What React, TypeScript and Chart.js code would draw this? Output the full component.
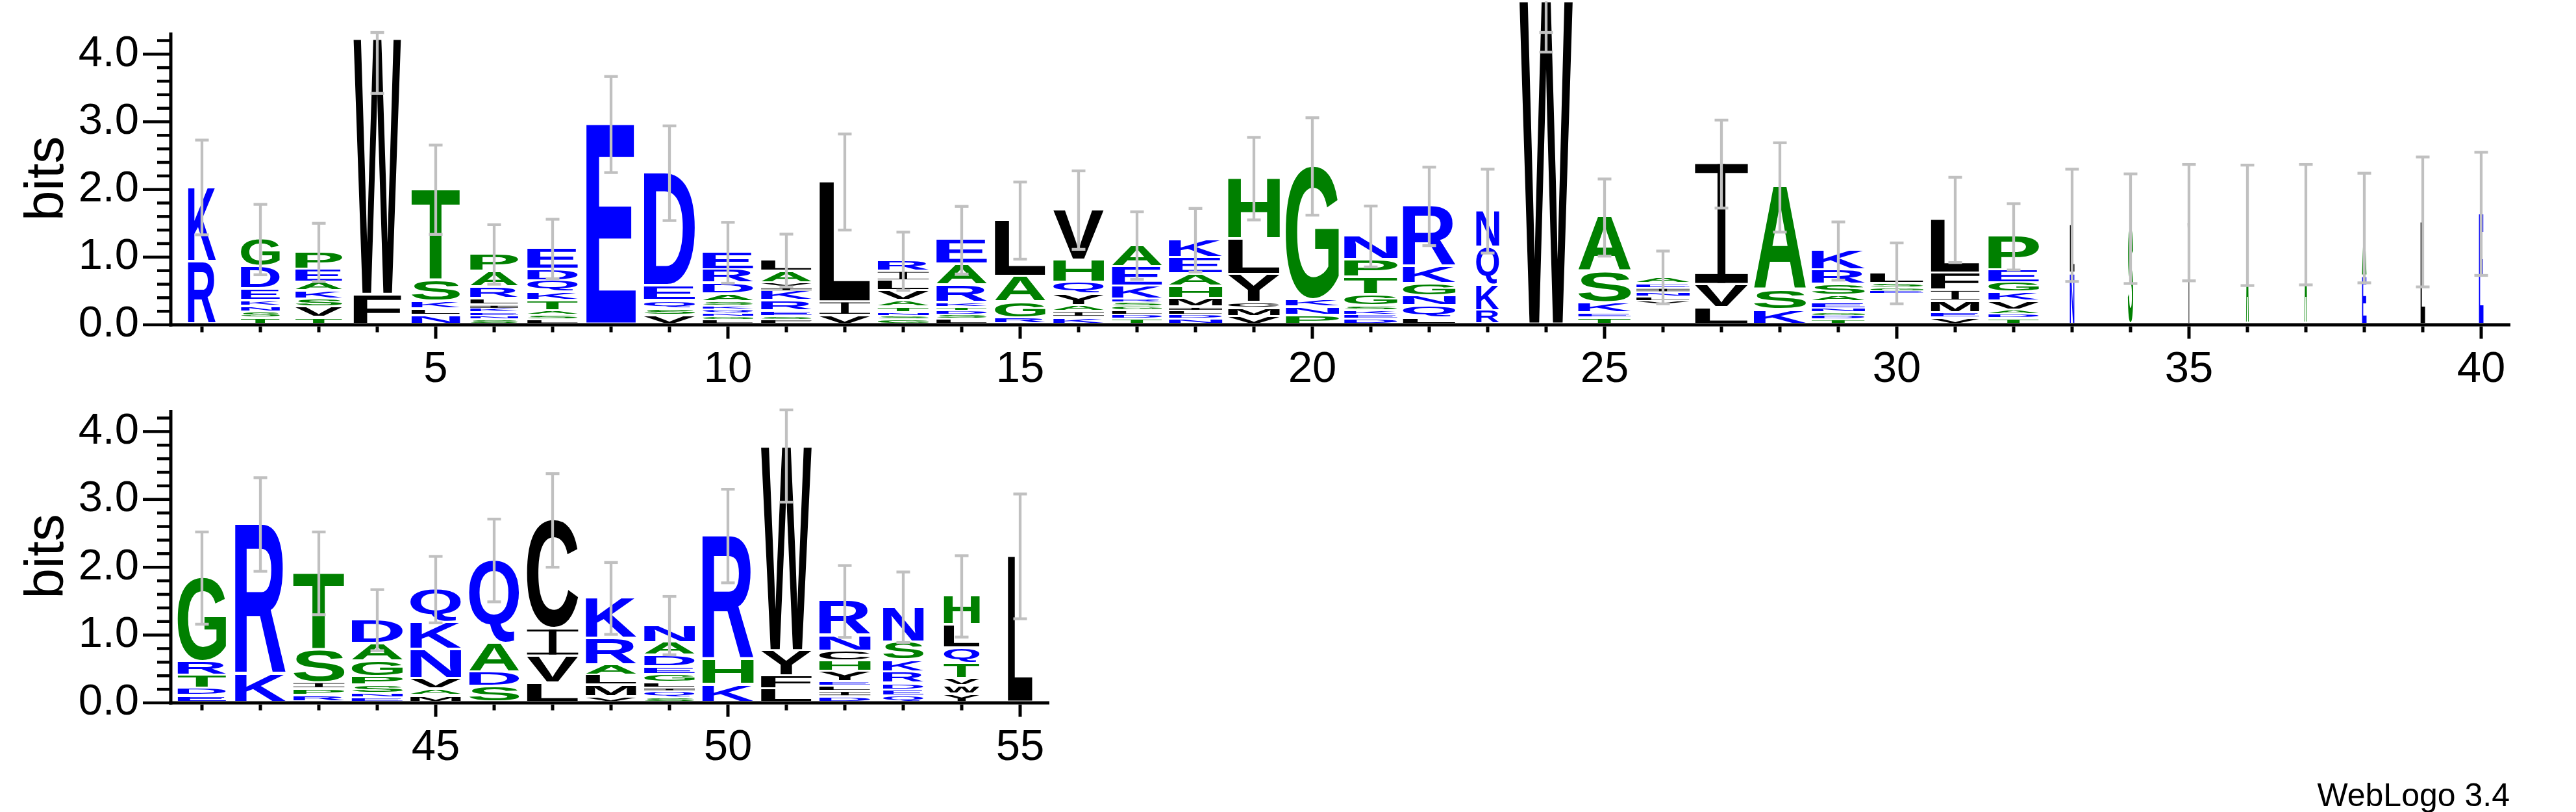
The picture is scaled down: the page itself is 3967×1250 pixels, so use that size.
import React, { useEffect, useRef } from 'react';
import { Chart, registerables } from 'chart.js';

Chart.register(...registerables);

// ---------------- DATA ----------------
const Y_MAX = 4.32; // log2(20) bits

const positions: number[] = [
  1, 2, 3, 4, 5, 6, 7, 8, 9, 10, 11, 12, 13, 14, 15, 16, 17, 18, 19, 20,
  21, 22, 23, 24, 25, 26, 27, 28, 29, 30, 31, 32, 33, 34, 35, 36, 37, 38, 39, 40,
  41, 42, 43, 44, 45, 46, 47, 48, 49, 50, 51, 52, 53, 54, 55,
];

// residues of each stack, from bottom to top
const stackLetters: string[] = [
  'RK', 'TSNKEDG', 'TVSKAEP', 'FW', 'NLKST', 'SNEKILRAP', 'LSATKQDE', 'E', 'VSQED', 'LGNQKSADRE',
  'FSERKIVAL', 'VIL', 'GSNTAVLIR', 'LSDTKRAE', 'RGAL', 'KIAYQHV', 'TDLGSRKEA', 'NDLIMHAEK', 'VMCYLH', 'PNKG',
  'DEKSGTPN', 'LQNGKR', 'RKQN', 'W', 'TEKSA', 'VLNIEA', 'LVI', 'KSA', 'TDGNEASRK', 'EGSL',
  'VEMIFL', 'TDAVKGEP', 'NL', 'S', 'Y', 'A', 'A', 'EA', 'L', 'E',
  'EDTRG', 'KR', 'RPIST', 'ENSPGAD', 'MAVNKQ', 'SDAQ', 'LVIC', 'VMLARK', 'SQILGEDAN', 'KHR',
  'LFYW', 'DILEYHCNR', 'QEDRKSN', 'YWVTQLH', 'L',
];

// letter heights in bits, same order as stackLetters
const stackHeights: number[][] = [
  [0.93, 1.1],
  [0.09, 0.09, 0.085, 0.085, 0.17, 0.33, 0.41],
  [0.1, 0.15, 0.12, 0.12, 0.13, 0.19, 0.26],
  [0.44, 3.78],
  [0.126, 0.1, 0.11, 0.31, 1.35],
  [0.07, 0.05, 0.05, 0.06, 0.05, 0.1, 0.17, 0.23, 0.26],
  [0.07, 0.06, 0.07, 0.15, 0.12, 0.17, 0.17, 0.31],
  [2.96],
  [0.13, 0.1, 0.12, 0.22, 1.67],
  [0.064, 0.05, 0.05, 0.05, 0.05, 0.07, 0.11, 0.16, 0.2, 0.26],
  [0.07, 0.045, 0.085, 0.15, 0.14, 0.05, 0.07, 0.17, 0.17],
  [0.13, 0.2, 1.78],
  [0.07, 0.05, 0.05, 0.08, 0.1, 0.14, 0.15, 0.14, 0.16],
  [0.08, 0.06, 0.06, 0.05, 0.07, 0.26, 0.31, 0.36],
  [0.09, 0.24, 0.38, 0.83],
  [0.1, 0.085, 0.09, 0.17, 0.17, 0.33, 0.75],
  [0.08, 0.06, 0.06, 0.06, 0.06, 0.05, 0.19, 0.29, 0.32],
  [0.08, 0.06, 0.06, 0.05, 0.13, 0.18, 0.18, 0.24, 0.27],
  [0.115, 0.12, 0.085, 0.41, 0.53, 0.9],
  [0.13, 0.12, 0.11, 1.98],
  [0.08, 0.06, 0.06, 0.075, 0.16, 0.26, 0.26, 0.35],
  [0.09, 0.18, 0.15, 0.18, 0.25, 0.9],
  [0.2, 0.38, 0.56, 0.54],
  [4.78],
  [0.09, 0.075, 0.15, 0.46, 0.81],
  [0.05, 0.065, 0.065, 0.06, 0.07, 0.1],
  [0.245, 0.34, 1.79],
  [0.21, 0.29, 1.53],
  [0.07, 0.055, 0.05, 0.055, 0.1, 0.095, 0.16, 0.215, 0.29],
  [0.04, 0.05, 0.06, 0.16],
  [0.09, 0.08, 0.17, 0.16, 0.25, 0.8],
  [0.08, 0.07, 0.06, 0.13, 0.13, 0.14, 0.19, 0.5],
  [0.75, 0.72],
  [1.42],
  [1.51],
  [1.47],
  [1.48],
  [0.71, 0.72],
  [1.52],
  [1.64],
  [0.1, 0.11, 0.19, 0.2, 1.24],
  [0.41, 2.22],
  [0.1, 0.1, 0.09, 0.49, 1.13],
  [0.07, 0.06, 0.12, 0.13, 0.23, 0.26, 0.35],
  [0.1, 0.1, 0.15, 0.43, 0.4, 0.49],
  [0.23, 0.21, 0.43, 1.23],
  [0.28, 0.4, 0.4, 1.61],
  [0.08, 0.17, 0.15, 0.15, 0.39, 0.6],
  [0.07, 0.1, 0.04, 0.08, 0.12, 0.11, 0.17, 0.19, 0.26],
  [0.26, 0.37, 1.83],
  [0.2, 0.19, 0.37, 3.01],
  [0.08, 0.08, 0.08, 0.06, 0.155, 0.15, 0.15, 0.23, 0.51],
  [0.09, 0.09, 0.1, 0.17, 0.17, 0.27, 0.52],
  [0.12, 0.12, 0.11, 0.23, 0.22, 0.34, 0.43],
  [2.16],
];

// bits taken by residues too small to be drawn (bottom of the stack)
const stackBase: number[] = [
  0, 0, 0, 0, 0, 0, 0, 0, 0, 0, 0, 0, 0, 0, 0, 0, 0, 0, 0, 0,
  0, 0, 0, 0, 0, 0.29, 0, 0, 0, 0.45, 0, 0, 0, 0, 0, 0, 0, 0, 0, 0,
  0, 0, 0, 0, 0, 0, 0, 0, 0, 0, 0, 0, 0, 0, 0,
];

// relative stack width (fraction of non-gap residues)
const stackWidth: number[] = [
  0.52, 0.73, 0.88, 0.89, 0.91, 0.9, 0.95, 0.93, 0.96, 0.95,
  0.95, 0.95, 0.96, 0.95, 0.95, 0.95, 0.94, 1.0, 0.97, 1.0,
  1.0, 0.99, 0.43, 1.0, 0.99, 1.0, 0.99, 0.98, 1.0, 1.0,
  0.91, 0.95, 0.085, 0.1, 0.05, 0.05, 0.05, 0.085, 0.085, 0.085,
  0.91, 0.95, 0.96, 0.96, 0.95, 0.94, 0.96, 0.95, 0.95, 0.96,
  0.95, 0.96, 0.76, 0.67, 0.46,
];

// half-length of the error bar (bits)
const errorHalf: number[] = [
  0.7, 0.52, 0.43, 0.8, 0.66, 0.44, 0.44, 0.71, 0.7, 0.45,
  0.39, 0.71, 0.43, 0.5, 0.57, 0.58, 0.5, 0.47, 0.61, 0.72,
  0.45, 0.58, 0.62, 0.75, 0.57, 0.39, 0.65, 0.66, 0.43, 0.45,
  0.63, 0.49, 0.83, 0.81, 0.86, 0.89, 0.89, 0.81, 0.96, 0.91,
  0.68, 0.69, 0.61, 0.45, 0.49, 0.61, 0.69, 0.53, 0.43, 0.69,
  0.81, 0.53, 0.52, 0.6, 0.92,
];

const hydrophilic = 'RKDENQ'; // blue
const neutral = 'SGHTAP'; // green
// hydrophobic YVMCLFIW -> black

// ---------------- STYLE / LAYOUT ----------------
const FONT_FAMILY = '"Liberation Sans", Arial, Helvetica, sans-serif';
const GLYPH_FONT = 'bold 200px ' + FONT_FAMILY;
const BLUE = '#0000ff';
const GREEN = '#008000';
const BLACK = '#000000';
const GREY = '#c0c0c0';

interface Panel {
  from: number;
  to: number;
  top: number;
  width: number;
  height: number;
  area: { left: number; top: number; right: number; bottom: number };
}

const PANELS: Panel[] = [
  { from: 1, to: 40, top: 0, width: 3967, height: 620, area: { left: 266, top: 50, right: 3866, bottom: 500 } },
  { from: 41, to: 55, top: 560, width: 1800, height: 690, area: { left: 266, top: 71, right: 1616, bottom: 522 } },
];

function letterColor(ch: string): string {
  if (hydrophilic.includes(ch)) return BLUE;
  if (neutral.includes(ch)) return GREEN;
  return BLACK;
}

const metricsCache: Record<string, { l: number; r: number; a: number; d: number }> = {};
function glyphMetrics(ctx: CanvasRenderingContext2D, ch: string) {
  if (!metricsCache[ch]) {
    ctx.save();
    ctx.font = GLYPH_FONT;
    const m = ctx.measureText(ch);
    metricsCache[ch] = {
      l: m.actualBoundingBoxLeft,
      r: m.actualBoundingBoxRight,
      a: m.actualBoundingBoxAscent,
      d: m.actualBoundingBoxDescent,
    };
    ctx.restore();
  }
  return metricsCache[ch];
}

function drawGlyph(ctx: CanvasRenderingContext2D, ch: string, x0: number, y0: number, w: number, h: number) {
  if (w <= 0 || h <= 0.2) return;
  ctx.save();
  ctx.fillStyle = letterColor(ch);
  if (ch === 'I') {
    const t = Math.max(0.8, h * 0.075);
    const sw = Math.max(0.8, w * 0.15);
    ctx.fillRect(x0, y0, w, t);
    ctx.fillRect(x0, y0 + h - t, w, t);
    ctx.fillRect(x0 + (w - sw) / 2, y0, sw, h);
  } else {
    const g = glyphMetrics(ctx, ch);
    const gw = g.l + g.r;
    const gh = g.a + g.d;
    ctx.translate(x0, y0);
    ctx.scale(w / gw, h / gh);
    ctx.font = GLYPH_FONT;
    ctx.textAlign = 'left';
    ctx.textBaseline = 'alphabetic';
    ctx.fillText(ch, g.l, g.a);
  }
  ctx.restore();
}

function stackTop(i: number): number {
  return stackBase[i] + stackHeights[i].reduce((s, v) => s + v, 0);
}

function buildChart(canvas: HTMLCanvasElement, panel: Panel): Chart {
  const idx = positions.map((_, i) => i).filter((i) => positions[i] >= panel.from && positions[i] <= panel.to);
  const labels = idx.map((i) => String(positions[i]));
  const maxRank = Math.max(...idx.map((i) => stackLetters[i].length));

  const datasets: any[] = [
    {
      label: 'undrawn',
      data: idx.map((i) => stackBase[i]),
      backgroundColor: 'rgba(0,0,0,0)',
      borderWidth: 0,
    },
  ];
  for (let r = 0; r < maxRank; r++) {
    datasets.push({
      label: 'rank ' + (r + 1),
      data: idx.map((i) => stackHeights[i][r] ?? 0),
      backgroundColor: 'rgba(0,0,0,0)',
      borderWidth: 0,
    });
  }

  const logoPlugin = {
    id: 'logo',
    afterDatasetsDraw(chart: any) {
      const ctx: CanvasRenderingContext2D = chart.ctx;
      const xs = chart.scales.x;
      const ys = chart.scales.y;
      const ca = chart.chartArea;

      // letters: x/width from the bar elements, y from the value scale
      chart.data.datasets.forEach((_: any, d: number) => {
        if (d === 0) return;
        const meta = chart.getDatasetMeta(d);
        meta.data.forEach((el: any, j: number) => {
          const i = idx[j];
          const ch = stackLetters[i][d - 1];
          if (!ch) return;
          let below = stackBase[i];
          for (let r = 0; r < d - 1; r++) below += stackHeights[i][r];
          const yBottom = ys.getPixelForValue(below);
          const yTopPx = ys.getPixelForValue(below + stackHeights[i][d - 1]);
          const h = yBottom - yTopPx;
          if (h <= 0) return;
          const gap = Math.min(3.5, h * 0.45);
          const p = el.getProps(['x', 'width'], true);
          const w = p.width * stackWidth[i];
          drawGlyph(ctx, ch, p.x - w / 2, yTopPx, w, h - gap);
        });
      });

      // error bars
      ctx.save();
      ctx.fillStyle = GREY;
      idx.forEach((i, j) => {
        const top = stackTop(i);
        const e = errorHalf[i];
        const px = xs.getPixelForValue(j);
        const yLow = ys.getPixelForValue(top - e);
        const yCap = ys.getPixelForValue(Math.min(top + e, Y_MAX));
        const yLine = ys.getPixelForValue(Math.min(top + e, Math.max(Y_MAX, top)));
        ctx.fillRect(px - 2.15, yLine, 4.3, yLow - yLine);
        ctx.fillRect(px - 10.5, yLow - 2.15, 21, 4.3);
        ctx.fillRect(px - 10.5, yCap - 2.15, 21, 4.3);
      });
      ctx.restore();

      // axes
      ctx.save();
      ctx.fillStyle = BLACK;
      const y0 = ys.getPixelForValue(0);
      const yTop = ys.getPixelForValue(Y_MAX);
      const axX = ca.left - 3;
      ctx.fillRect(axX - 2.5, yTop, 5, y0 + 2.5 - yTop);
      ctx.fillRect(axX - 2.5, y0 - 2.5, ca.right - (axX - 2.5), 5);
      for (let k = 0; k <= 21; k++) {
        const v = k * 0.2;
        if (v > Y_MAX) break;
        const py = ys.getPixelForValue(v);
        const major = k % 5 === 0;
        const len = major ? 43 : 21;
        ctx.fillRect(axX - len, py - 2.25, len, 4.5);
      }
      idx.forEach((i, j) => {
        const px = xs.getPixelForValue(j);
        const major = positions[i] % 5 === 0;
        ctx.fillRect(px - 2.5, y0 + 2.5, 5, major ? 19 : 9);
      });
      ctx.restore();
    },
  };

  return new Chart(canvas, {
    type: 'bar',
    data: { labels, datasets },
    options: {
      animation: false,
      responsive: false,
      maintainAspectRatio: false,
      events: [],
      layout: {
        autoPadding: false,
        padding: { left: 0, top: panel.area.top, right: panel.width - panel.area.right, bottom: 0 },
      },
      datasets: {
        bar: { barPercentage: 1, categoryPercentage: 82 / 90 },
      },
      plugins: {
        legend: { display: false },
        tooltip: { enabled: false },
        title: { display: false },
      },
      scales: {
        x: {
          type: 'category',
          stacked: true,
          offset: true,
          grid: { display: false, drawTicks: false },
          border: { display: false },
          ticks: {
            autoSkip: false,
            maxRotation: 0,
            minRotation: 0,
            padding: 29,
            color: BLACK,
            font: { family: FONT_FAMILY, size: 67 },
            callback: (_v: any, index: number) => {
              const p = positions[idx[index]];
              return p % 5 === 0 ? String(p) : '';
            },
          },
          afterFit: (scale: any) => {
            scale.height = panel.height - panel.area.bottom;
            scale.paddingLeft = 0;
            scale.paddingRight = 0;
            scale.paddingTop = 0;
            scale.paddingBottom = 0;
          },
        },
        y: {
          type: 'linear',
          stacked: true,
          min: 0,
          max: Y_MAX,
          grid: { display: false, drawTicks: false },
          border: { display: false },
          ticks: {
            stepSize: 1,
            includeBounds: false,
            padding: 52,
            color: BLACK,
            font: { family: FONT_FAMILY, size: 67 },
            callback: (v: any) => Number(v).toFixed(1),
          },
          title: {
            display: true,
            text: 'bits',
            color: BLACK,
            font: { family: FONT_FAMILY, size: 84 },
            padding: { top: 23, bottom: 0 },
          },
          afterFit: (scale: any) => {
            scale.width = panel.area.left;
            scale.paddingLeft = 0;
            scale.paddingRight = 0;
            scale.paddingTop = 0;
            scale.paddingBottom = 0;
          },
        },
      },
    } as any,
    plugins: [logoPlugin as any],
  });
}

export default function App() {
  const topRef = useRef<HTMLCanvasElement>(null);
  const botRef = useRef<HTMLCanvasElement>(null);

  useEffect(() => {
    const charts: Chart[] = [];
    if (topRef.current) charts.push(buildChart(topRef.current, PANELS[0]));
    if (botRef.current) charts.push(buildChart(botRef.current, PANELS[1]));
    return () => charts.forEach((c) => c.destroy());
  }, []);

  return (
    <div
      style={{
        position: 'fixed',
        left: 0,
        top: 0,
        width: 3967,
        height: 1250,
        background: '#ffffff',
        overflow: 'hidden',
      }}
    >
      <canvas
        ref={topRef}
        width={PANELS[0].width}
        height={PANELS[0].height}
        style={{ position: 'absolute', left: 0, top: PANELS[0].top, width: PANELS[0].width, height: PANELS[0].height }}
      />
      <canvas
        ref={botRef}
        width={PANELS[1].width}
        height={PANELS[1].height}
        style={{ position: 'absolute', left: 0, top: PANELS[1].top, width: PANELS[1].width, height: PANELS[1].height }}
      />
      <div
        style={{
          position: 'absolute',
          right: 102,
          top: 1199,
          fontFamily: FONT_FAMILY,
          fontSize: 50,
          lineHeight: '50px',
          color: '#000',
          whiteSpace: 'nowrap',
        }}
      >
        WebLogo 3.4
      </div>
    </div>
  );
}
